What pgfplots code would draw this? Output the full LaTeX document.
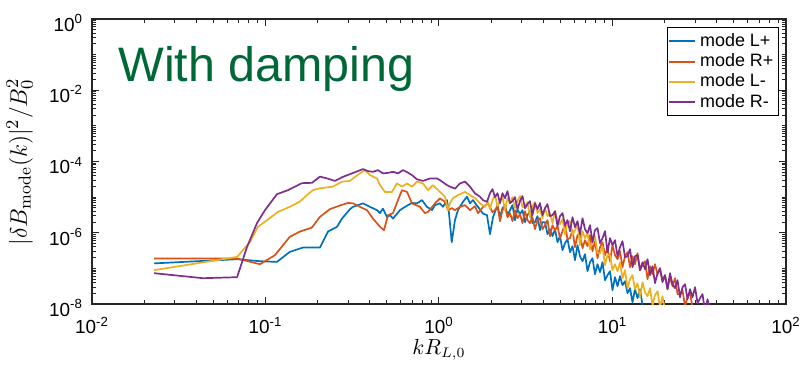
\documentclass[border=0pt]{standalone}
\usepackage{pgfplots}
\pgfplotsset{compat=1.18}
\usepackage{fontspec}
\newfontfamily\arial{Liberation Sans}
\definecolor{mblue}{rgb}{0,0.447,0.741}
\definecolor{morange}{rgb}{0.85,0.325,0.098}
\definecolor{myellow}{rgb}{0.929,0.694,0.125}
\definecolor{mpurple}{rgb}{0.494,0.184,0.556}
\definecolor{dgreen}{RGB}{0,104,55}
\definecolor{axgray}{RGB}{38,38,38}
\begin{document}
\begin{tikzpicture}
\begin{axis}[
  name=ax,
  xmode=log, ymode=log,
  scale only axis, width=347bp, height=142.5bp,
  xmin=1e-2, xmax=1e2, ymin=1e-8, ymax=1,
  xtick={1e-2,1e-1,1,1e1,1e2},
  xticklabels={10\textsuperscript{-2},10\textsuperscript{-1},10\textsuperscript{0},10\textsuperscript{1},10\textsuperscript{2}},
  ytick={1e-8,1e-6,1e-4,1e-2,1},
  yticklabels={10\textsuperscript{-8},10\textsuperscript{-6},10\textsuperscript{-4},10\textsuperscript{-2},10\textsuperscript{0}},
  minor ytick={2e-8,3e-8,4e-8,5e-8,6e-8,7e-8,8e-8,9e-8,1e-7,2e-7,3e-7,4e-7,5e-7,6e-7,7e-7,8e-7,9e-7,
    2e-6,3e-6,4e-6,5e-6,6e-6,7e-6,8e-6,9e-6,1e-5,2e-5,3e-5,4e-5,5e-5,6e-5,7e-5,8e-5,9e-5,
    2e-4,3e-4,4e-4,5e-4,6e-4,7e-4,8e-4,9e-4,1e-3,2e-3,3e-3,4e-3,5e-3,6e-3,7e-3,8e-3,9e-3,
    2e-2,3e-2,4e-2,5e-2,6e-2,7e-2,8e-2,9e-2,1e-1,2e-1,3e-1,4e-1,5e-1,6e-1,7e-1,8e-1,9e-1},
  tick align=inside,
  major tick length=3.5bp, minor tick length=1.8bp,
  axis line style={axgray, line width=0.6bp},
  every tick/.style={axgray, line width=0.5bp},
  ticklabel style={font=\arial\fontsize{9.5}{11}\selectfont, text=black},
  xticklabel style={yshift=-3bp},
  yticklabel style={xshift=-1bp, yshift=-2bp},
  ylabel={$|\delta B_{\mathrm{mode}}(k)|^2/B_0^2$},
  ylabel style={at={(axis description cs:-0.104,0.5)}, anchor=center, font=\fontsize{12.4}{14}\selectfont},
  xlabel={$kR_{L,0}$},
  xlabel style={at={(axis description cs:0.5,0)}, anchor=center, yshift=-23bp, font=\fontsize{10.5}{12}\selectfont},
  every axis plot/.append style={line width=0.85bp, line join=round},
  legend style={at={(1,1)}, anchor=north east, xshift=-3.5bp, yshift=-4bp, draw=black, line width=0.6bp,
    font=\arial\fontsize{9}{10.5}\selectfont, inner xsep=0.5bp, inner ysep=0.8bp, row sep=-1.8bp, cells={anchor=west}},
  legend image code/.code={\draw[#1, line width=1bp] (0bp,0bp) -- (13bp,0bp);},
]
% mode L+
\addplot[mblue] coordinates {
(0.0228,1.38e-7)(0.0686,1.81e-7)(0.0929,1.59e-7)(0.1164,1.52e-7)(0.138,2.90e-7)(0.1645,3.85e-7)
(0.206,3.85e-7)(0.2293,1.08e-6)(0.2584,1.47e-6)(0.2760,2.50e-6)(0.307,4.60e-6)(0.3193,5.33e-6)
(0.3648,6.67e-6)(0.400,5.33e-6)(0.4391,4.31e-6)(0.457,3.55e-6)(0.4755,4.75e-6)(0.5015,2.74e-6)
(0.522,3.12e-6)(0.543,2.50e-6)(0.596,4.31e-6)(0.637,5.33e-6)(0.699,6.90e-6)(0.7466,6.67e-6)
(0.798,8.24e-6)(0.853,5.33e-6)(0.911,4.31e-6)(0.9483,5.96e-6)(1.013,6.67e-6)(1.054,5.33e-6)
(1.112,8.24e-6)(1.142,3.55e-6)(1.184,5.44e-7)(1.236,2.26e-6)(1.287,4.31e-6)(1.375,7.40e-6)
(1.450,1.03e-5)(1.509,6.67e-6)(1.570,8.24e-6)(1.678,5.33e-6)(1.793,3.45e-6)(1.891,3.12e-6)
(1.968,9.10e-7)(2.048,2.74e-6)
(2.174,5.96e-6)(2.247,2.74e-6)(2.323,4.91e-6)(2.401,5.96e-6)(2.482,3.12e-6)(2.566,4.31e-6)
(2.652,5.96e-6)(2.742,2.26e-6)(2.834,4.60e-6)(2.930,3.33e-6)(3.029,4.31e-6)(3.131,1.99e-6)
(3.236,3.12e-6)(3.346,4.04e-6)(3.458,1.86e-6)(3.575,1.99e-6)(3.696,2.93e-6)(3.821,1.18e-6)
(3.949,1.99e-6)(4.083,1.99e-6)(4.220,9.14e-7)(4.364,1.26e-6)(4.510,8.03e-7)(4.663,1.26e-6)
(4.820,5.44e-7)(4.983,8.03e-7)(5.151,3.24e-7)(5.325,5.10e-7)(5.504,6.61e-7)(5.690,2.85e-7)
(5.882,4.20e-7)(6.080,1.70e-7)(6.285,4.48e-7)(6.498,2.20e-7)(6.717,1.59e-7)(6.943,2.50e-7)
(7.177,8.34e-8)(7.420,1.49e-7)(7.670,1.93e-7)(7.929,6.87e-8)(8.196,1.31e-7)(8.474,7.82e-8)
(8.759,1.49e-7)(9.055,4.66e-8)(9.360,6.44e-8)(9.677,8.34e-8)(10.00,2.44e-8)(10.34,5.66e-8)
(10.69,3.16e-8)(11.05,6.04e-8)(11.42,3.37e-8)(11.81,4.37e-8)(12.21,2.01e-8)(12.62,2.78e-8)
(13.04,1.12e-8)(13.48,2.60e-8)(13.94,1.46e-8)(14.41,2.60e-8)(14.90,9.25e-9)(15.40,5.88e-9)
};
\addlegendentry{mode L+}
% mode R+
\addplot[morange] coordinates {
(0.0228,1.89e-7)(0.0686,1.89e-7)(0.0929,1.31e-7)(0.1134,2.35e-7)(0.138,7.68e-7)(0.158,1.08e-6)
(0.1853,1.40e-6)(0.206,2.80e-6)(0.235,4.60e-6)(0.2723,5.96e-6)(0.2989,6.90e-6)(0.3193,6.67e-6)
(0.350,5.33e-6)(0.3846,4.31e-6)(0.4166,2.50e-6)(0.457,1.47e-6)(0.4819,1.18e-6)(0.5081,3.12e-6)
(0.543,3.55e-6)(0.5802,8.24e-6)(0.612,1.57e-5)(0.6543,1.40e-5)(0.699,6.67e-6)(0.777,5.33e-6)
(0.830,3.55e-6)(0.8642,3.86e-6)(0.9483,6.67e-6)(1.013,9.20e-6)(1.083,7.40e-6)(1.127,4.31e-6)
(1.188,4.91e-6)(1.236,4.31e-6)(1.321,5.33e-6)(1.412,5.96e-6)(1.509,4.31e-6)(1.613,5.59e-6)
(1.678,3.55e-6)(1.793,5.24e-6)(1.916,6.78e-6)
(2.034,3.79e-6)(2.103,4.31e-6)(2.174,5.59e-6)(2.247,2.12e-6)(2.323,4.31e-6)(2.401,5.59e-6)
(2.482,2.74e-6)(2.566,3.55e-6)(2.652,2.12e-6)(2.742,4.31e-6)(2.834,2.57e-6)(2.930,3.33e-6)
(3.029,1.86e-6)(3.131,4.04e-6)(3.236,2.26e-6)(3.346,1.86e-6)(3.458,2.74e-6)(3.575,1.26e-6)
(3.696,2.26e-6)(3.821,2.57e-6)(3.949,1.26e-6)(4.083,1.63e-6)(4.220,2.26e-6)(4.364,8.03e-7)
(4.510,1.63e-6)(4.663,1.18e-6)(4.820,1.53e-6)(4.983,7.05e-7)(5.151,1.11e-6)(5.325,1.75e-6)
(5.504,6.61e-7)(5.690,7.05e-7)(5.882,1.18e-6)(6.080,3.94e-7)(6.285,8.56e-7)(6.498,9.14e-7)
(6.717,3.69e-7)(6.943,6.19e-7)(7.177,4.20e-7)(7.420,8.56e-7)(7.670,3.04e-7)(7.929,5.81e-7)
(8.196,1.93e-7)(8.474,3.94e-7)(8.759,5.44e-7)(9.055,2.35e-7)(9.360,3.69e-7)(9.677,1.59e-7)
(10.00,4.48e-7)(10.34,2.35e-7)(10.69,1.81e-7)(11.05,3.04e-7)(11.42,1.08e-7)(11.81,2.20e-7)
(12.21,2.85e-7)(12.62,1.08e-7)(13.04,2.20e-7)(13.48,1.31e-7)(13.94,2.67e-7)(14.41,8.90e-8)
(14.90,1.27e-7)(15.40,1.59e-7)(15.92,4.97e-8)(16.46,1.15e-7)(17.01,6.87e-8)(17.58,1.31e-7)
(18.18,6.87e-8)(18.79,9.47e-8)(19.42,4.66e-8)(20.08,6.44e-8)(20.76,2.60e-8)(21.46,5.66e-8)
(22.18,3.16e-8)(22.93,5.30e-8)(23.71,1.89e-8)(24.51,1.89e-8)(25.33,2.44e-8)(26.19,8.67e-9)
(27.07,1.55e-8)(27.99,2.15e-8)(28.93,7.62e-9)(29.91,5.88e-9)
};
\addlegendentry{mode R+}
% mode L-
\addplot[myellow] coordinates {
(0.0228,8.90e-8)(0.0686,2.10e-7)(0.0815,5.55e-7)(0.0905,1.47e-6)(0.1020,2.26e-6)(0.1181,3.86e-6)
(0.138,5.33e-6)(0.158,7.56e-6)(0.1733,1.14e-5)(0.1878,1.57e-5)(0.206,1.77e-5)(0.2449,1.97e-5)
(0.2760,2.72e-5)(0.307,2.86e-5)(0.3193,3.35e-5)(0.350,4.63e-5)(0.3746,5.73e-5)(0.400,4.15e-5)
(0.4391,3.35e-5)(0.457,2.17e-5)(0.4887,1.40e-5)(0.5359,1.40e-5)(0.5727,2.42e-5)(0.6120,1.97e-5)
(0.6543,2.42e-5)(0.6990,1.97e-5)(0.7466,2.72e-5)(0.8089,2.42e-5)(0.8642,1.57e-5)(0.9235,2.17e-5)
(1.013,1.40e-5)(1.083,1.03e-5)(1.127,4.31e-6)(1.157,6.67e-6)(1.204,9.37e-6)(1.287,1.14e-5)
(1.412,1.40e-5)(1.509,1.14e-5)(1.613,9.37e-6)(1.723,6.67e-6)(1.841,5.33e-6)(1.916,7.40e-6)
(1.968,4.60e-6)(2.034,8.24e-6)(2.103,1.14e-5)(2.174,5.59e-6)(2.247,7.72e-6)(2.323,1.00e-5)
(2.401,4.31e-6)(2.482,9.37e-6)(2.566,6.78e-6)(2.652,1.00e-5)(2.742,4.91e-6)(2.834,7.72e-6)
(2.930,1.07e-5)(3.029,5.24e-6)(3.131,5.59e-6)(3.236,7.24e-6)(3.346,2.74e-6)(3.458,5.59e-6)
(3.575,7.24e-6)(3.696,3.55e-6)(3.821,4.60e-6)(3.949,2.57e-6)(4.083,4.91e-6)(4.220,2.93e-6)
(4.364,3.55e-6)(4.510,1.86e-6)(4.663,4.04e-6)(4.820,2.12e-6)(4.983,1.75e-6)(5.151,2.41e-6)
(5.325,9.14e-7)(5.504,1.86e-6)(5.690,2.12e-6)(5.882,8.56e-7)(6.080,1.18e-6)(6.285,1.75e-6)
(6.498,4.48e-7)(6.717,1.11e-6)(6.943,7.05e-7)(7.177,9.75e-7)(7.420,3.46e-7)(7.670,5.81e-7)
(7.929,8.03e-7)(8.196,2.67e-7)(8.474,2.67e-7)(8.759,4.20e-7)(9.055,1.23e-7)(9.360,2.35e-7)
(9.677,2.35e-7)(10.00,8.90e-8)(10.34,1.31e-7)(10.69,8.34e-8)(11.05,1.49e-7)(11.42,5.30e-8)
(11.81,8.90e-8)(12.21,2.78e-8)(12.62,4.97e-8)(13.04,6.44e-8)(13.48,2.60e-8)(13.94,3.84e-8)
(14.41,1.55e-8)(14.90,4.10e-8)(15.40,2.15e-8)(15.92,1.66e-8)(16.46,2.78e-8)(17.01,9.25e-9)
(17.58,1.77e-8)(18.18,2.29e-8)(18.79,8.12e-9)(19.42,1.66e-8)(20.08,6.69e-9)
};
\addlegendentry{mode L-}
% mode R-
\addplot[mpurple] coordinates {
(0.0228,7.33e-8)(0.0436,5.30e-8)(0.0686,5.66e-8)(0.0782,3.94e-7)(0.0893,1.86e-6)(0.0993,4.31e-6)
(0.1164,1.21e-5)(0.1349,1.57e-5)(0.1623,2.47e-5)(0.1853,2.52e-5)(0.206,3.77e-5)(0.2262,3.35e-5)
(0.2515,2.85e-5)(0.2797,3.72e-5)(0.307,4.43e-5)(0.3323,5.14e-5)(0.3648,6.12e-5)(0.3899,5.37e-5)
(0.4166,5.14e-5)(0.4451,5.73e-5)(0.4755,4.63e-5)(0.5081,4.80e-5)(0.5430,5.14e-5)(0.5802,4.63e-5)
(0.6200,5.73e-5)(0.6543,5.04e-5)(0.6990,4.15e-5)(0.7466,3.16e-5)(0.8089,2.85e-5)(0.8874,3.35e-5)
(0.9739,3.35e-5)(1.013,3.00e-5)(1.112,2.17e-5)(1.157,1.97e-5)(1.236,1.73e-5)(1.321,2.42e-5)
(1.412,2.72e-5)(1.509,1.97e-5)(1.613,1.27e-5)(1.723,1.03e-5)(1.793,8.24e-6)(1.891,7.40e-6)
(1.968,1.29e-5)(2.034,1.68e-5)(2.103,1.00e-5)(2.174,1.29e-5)(2.247,6.78e-6)(2.323,1.29e-5)
(2.401,9.37e-6)(2.482,1.47e-5)(2.566,6.78e-6)(2.652,7.72e-6)(2.742,1.00e-5)(2.834,4.60e-6)
(2.930,7.72e-6)(3.029,1.07e-5)(3.131,4.91e-6)(3.236,6.36e-6)(3.346,7.72e-6)(3.458,3.12e-6)
(3.575,6.78e-6)(3.696,4.60e-6)(3.821,6.78e-6)(3.949,3.12e-6)(4.083,4.91e-6)(4.220,6.36e-6)
(4.364,2.93e-6)(4.510,3.12e-6)(4.663,4.04e-6)(4.820,1.53e-6)(4.983,2.93e-6)(5.151,3.55e-6)
(5.325,1.63e-6)(5.504,2.26e-6)(5.690,1.11e-6)(5.882,2.74e-6)(6.080,1.44e-6)(6.285,2.12e-6)
(6.498,9.14e-7)(6.717,2.57e-6)(6.943,1.26e-6)(7.177,9.75e-7)(7.420,1.63e-6)(7.670,5.44e-7)
(7.929,1.18e-6)(8.196,1.35e-6)(8.474,5.10e-7)(8.759,7.05e-7)(9.055,1.11e-6)(9.360,2.85e-7)
(9.677,7.05e-7)(10.00,4.48e-7)(10.34,6.19e-7)(10.69,2.20e-7)(11.05,3.94e-7)(11.42,5.81e-7)
(11.81,2.06e-7)(12.21,2.20e-7)(12.62,3.46e-7)(13.04,1.08e-7)(13.48,2.20e-7)(13.94,2.35e-7)
(14.41,8.90e-8)(14.90,1.49e-7)(15.40,9.47e-8)(15.92,1.81e-7)(16.46,6.44e-8)(17.01,1.15e-7)
(17.58,3.84e-8)(18.18,7.33e-8)(18.79,1.01e-7)(19.42,4.10e-8)(20.08,6.44e-8)(20.76,2.60e-8)
(21.46,7.33e-8)(22.18,3.60e-8)(22.93,2.78e-8)(23.71,4.66e-8)(24.51,1.55e-8)(25.33,2.96e-8)
(26.19,3.60e-8)(27.07,1.36e-8)(27.99,2.60e-8)(28.93,1.55e-8)(29.91,2.96e-8)(30.92,1.05e-8)
(31.96,1.46e-8)(33.04,1.89e-8)(34.15,5.88e-9)(35.31,1.36e-8)(36.50,6.69e-9)
};
\addlegendentry{mode R-}
\node[anchor=base west, font=\arial\fontsize{24.3}{28}\selectfont, text=dgreen, inner sep=0pt]
  at (rel axis cs:0.0375,0.779) {With damping};
\end{axis}
\pgfresetboundingbox
\path[use as bounding box] ([shift={(-46bp,-31.5bp)}]ax.south west) rectangle ([shift={(7bp,9.5bp)}]ax.north east);
\end{tikzpicture}
\end{document}
